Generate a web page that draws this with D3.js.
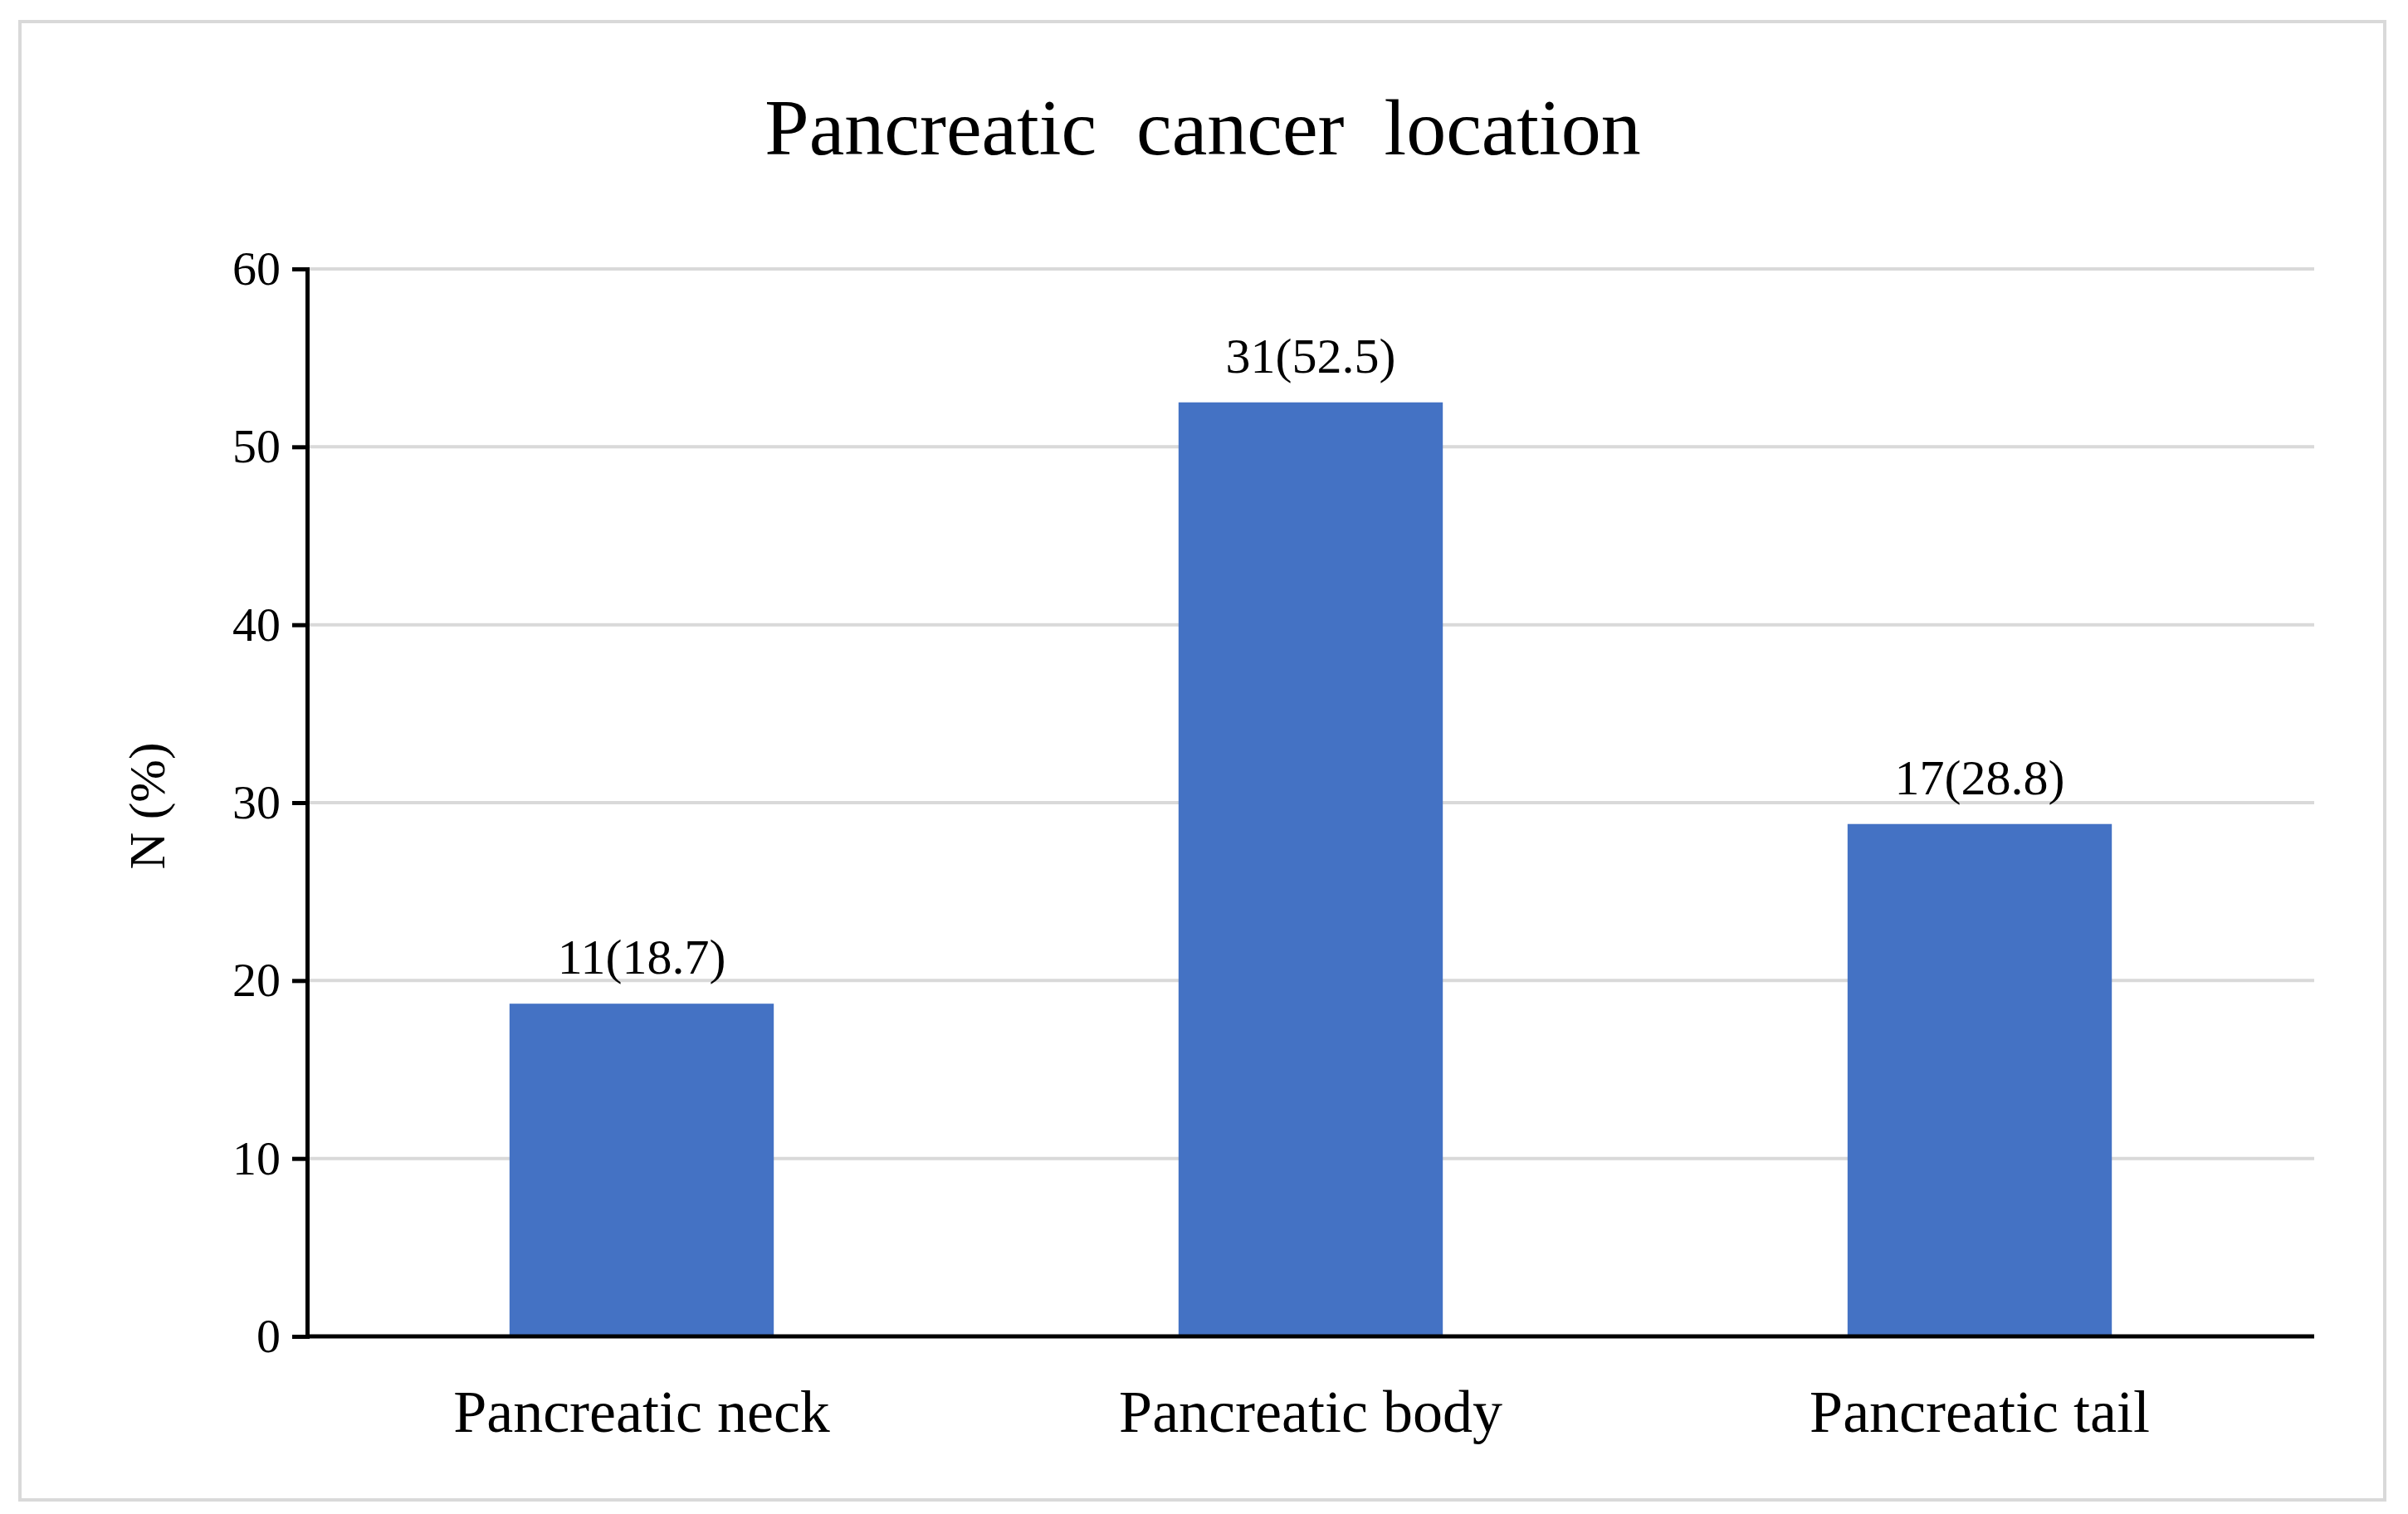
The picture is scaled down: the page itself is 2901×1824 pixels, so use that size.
<!DOCTYPE html>
<html><head><meta charset="utf-8">
<script src="https://cdn.jsdelivr.net/npm/d3@7"></script>
<style>body{margin:0;background:#fff}</style></head>
<body><svg id="c" width="2901" height="1824"></svg>
<script>
const categories = ["Pancreatic neck","Pancreatic body","Pancreatic tail"];
const values = [18.7, 52.5, 28.8];
const labels = ["11(18.7)","31(52.5)","17(28.8)"];
const yTicks = [0,10,20,30,40,50,60];
const title = "Pancreatic  cancer  location";
const yTitle = "N (%)";

const svg = d3.select("#c");
const font = "'Liberation Serif','Times New Roman',serif";
svg.append("rect").attr("x",24).attr("y",26).attr("width",2849).attr("height",1781)
  .attr("fill","#fff").attr("stroke","#d9d9d9").attr("stroke-width",4);
const L=370,R=2788,T=324,B=1610;
const x = d3.scaleBand().domain(categories).range([L,R]).paddingInner(0.605).paddingOuter(0.3025);
const y = d3.scaleLinear().domain([0,60]).range([B,T]);
svg.append("g").selectAll("line").data(yTicks.slice(1)).join("line")
  .attr("x1",L).attr("x2",R).attr("y1",d=>y(d)).attr("y2",d=>y(d))
  .attr("stroke","#d9d9d9").attr("stroke-width",4);
svg.append("g").selectAll("rect").data(values).join("rect")
  .attr("x",(d,i)=>x(categories[i])).attr("width",x.bandwidth())
  .attr("y",d=>y(d)).attr("height",d=>B-y(d)).attr("fill","#4472c4");
svg.append("g").selectAll("text").data(values).join("text")
  .attr("x",(d,i)=>x(categories[i])+x.bandwidth()/2).attr("y",d=>y(d)-36)
  .attr("text-anchor","middle").attr("font-family",font).attr("font-size",60)
  .text((d,i)=>labels[i]);
const ya = svg.append("g").attr("transform",`translate(${L},0)`)
  .call(d3.axisLeft(y).tickValues(yTicks).tickSize(18).tickPadding(14));
ya.selectAll("path,line").attr("stroke","#000").attr("stroke-width",5);
ya.selectAll("text").attr("font-family",font).attr("font-size",58).attr("fill","#000");
const xa = svg.append("g").attr("transform",`translate(0,${B})`)
  .call(d3.axisBottom(x).tickSize(0).tickPadding(64));
xa.select("path").attr("d",`M${L},0H${R}`).attr("stroke","#000").attr("stroke-width",5);
xa.selectAll("text").attr("font-family",font).attr("font-size",72).attr("fill","#000");
svg.append("text").attr("x",1449).attr("y",186).attr("text-anchor","middle")
  .attr("font-family",font).attr("font-size",96).style("white-space","pre").text(title);
svg.append("text").attr("transform","translate(198,971) rotate(-90)").attr("text-anchor","middle")
  .attr("font-family",font).attr("font-size",62).text(yTitle);
</script></body></html>
